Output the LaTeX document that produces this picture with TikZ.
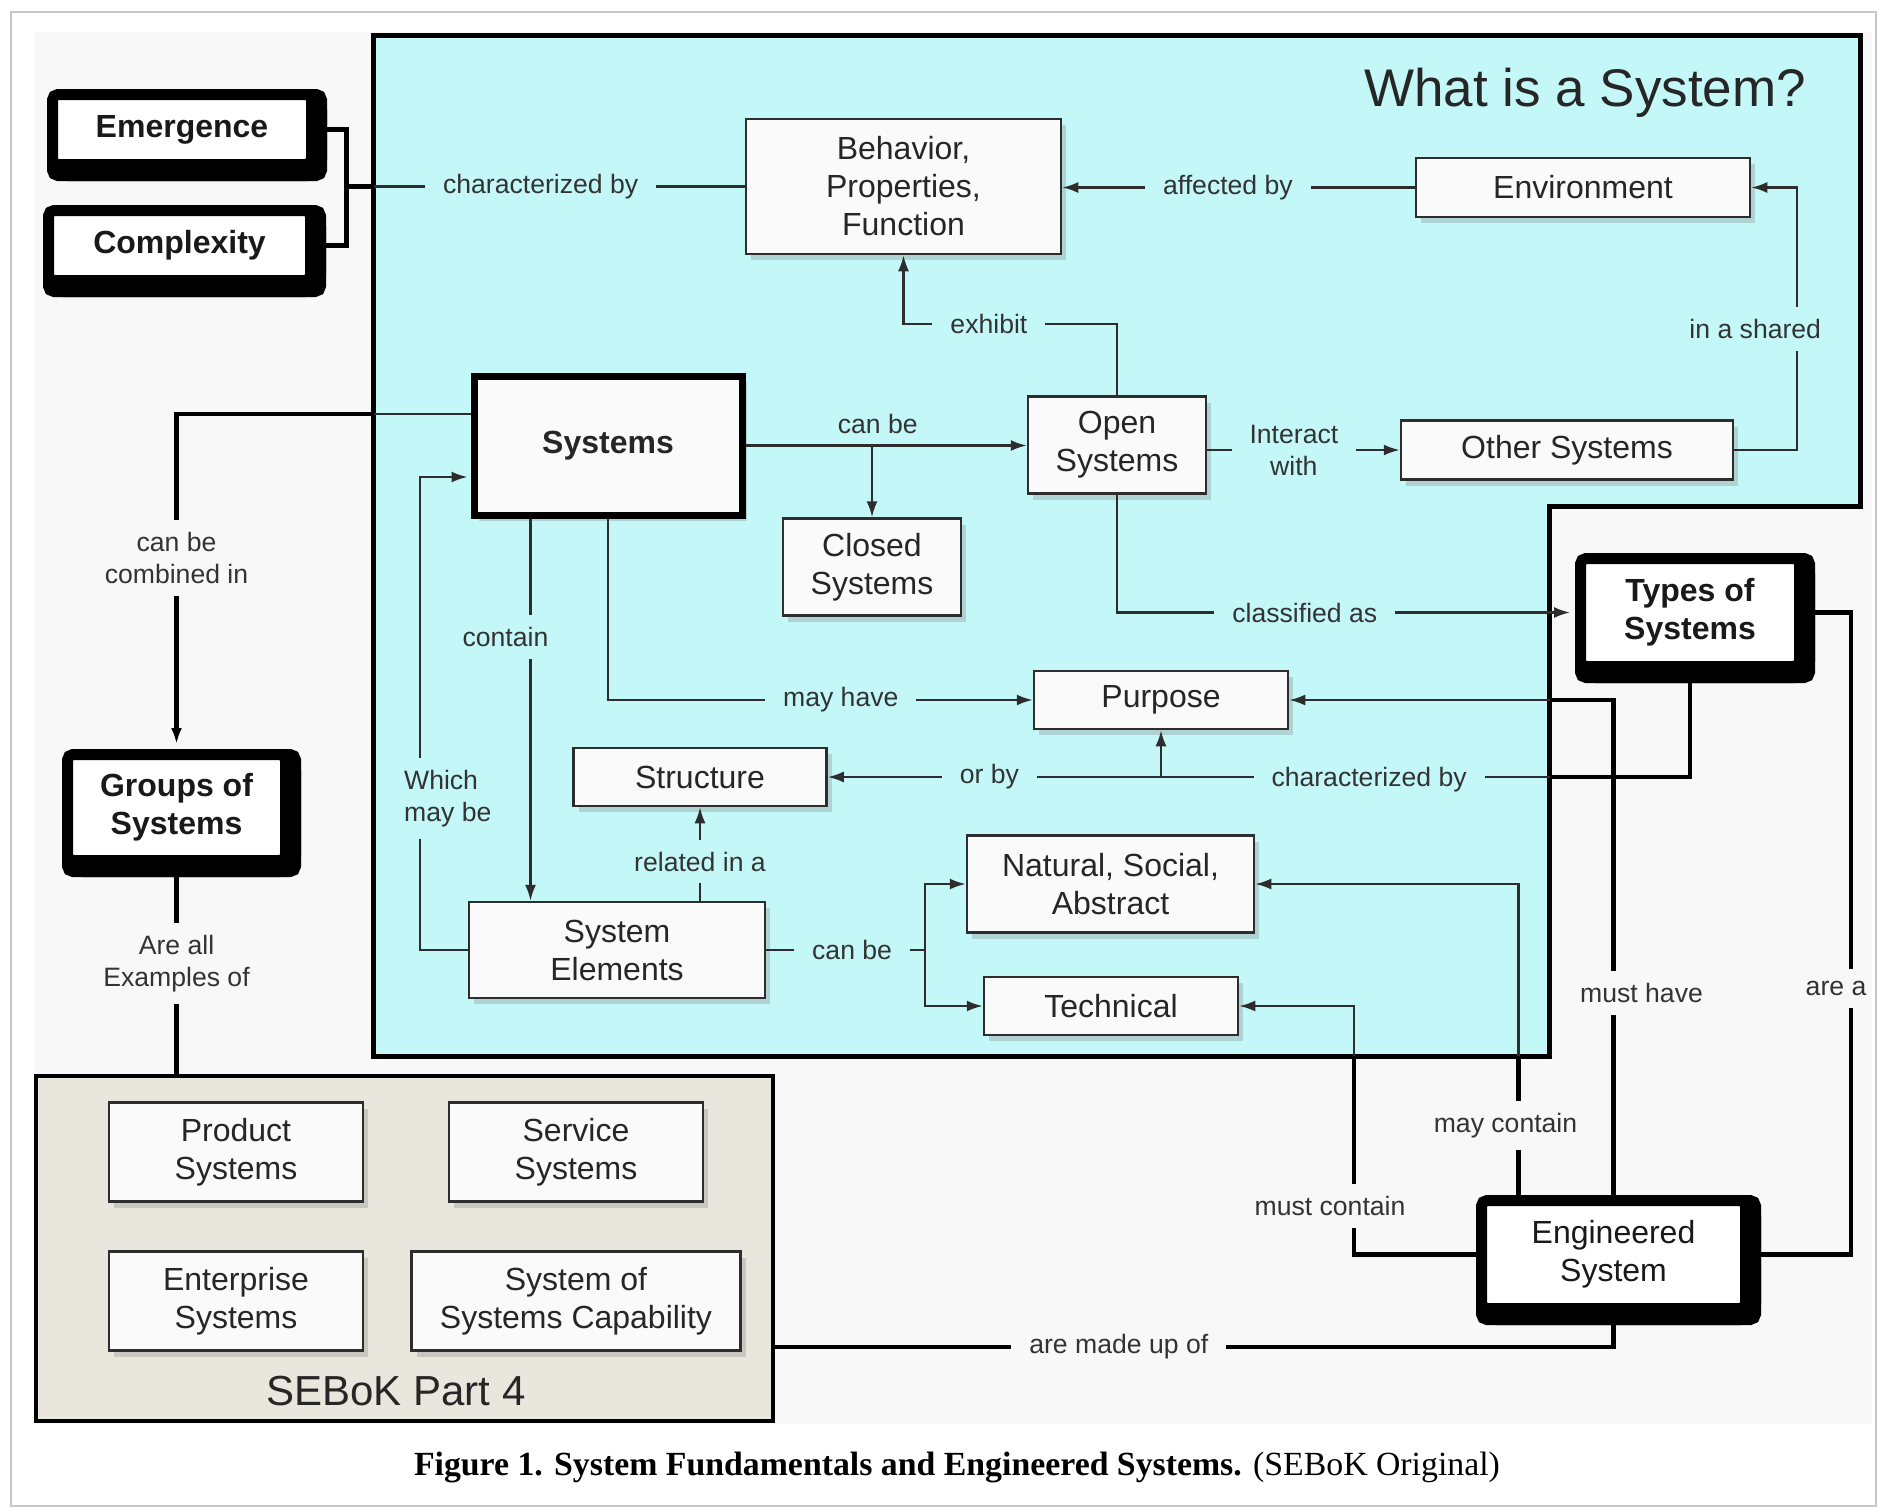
\documentclass[tikz,border=0pt]{standalone}
\usepackage{fontspec}
\setmainfont{Liberation Sans}
\newfontfamily\capfont{Liberation Serif}
\usetikzlibrary{arrows.meta}
\usetikzlibrary{calc,shadows}

\definecolor{cyanbg}{RGB}{196,248,248}
\definecolor{greybg}{RGB}{248,248,248}
\definecolor{partbg}{RGB}{232,230,221}
\definecolor{boxfill}{RGB}{250,250,250}
\definecolor{inkgrey}{RGB}{45,45,45}

\begin{document}
\begin{tikzpicture}[x=1pt, y=-1pt, >={Latex[length=16pt, width=11pt]}]
\tikzset{
box/.style = {draw=inkgrey, line width=2.5pt, fill=boxfill, text=black!85, align=center, inner sep=0pt, font=\fontsize{32}{38}\selectfont, drop shadow={opacity=0.3, shadow xshift=5pt, shadow yshift=-6pt}},
sysbox/.style = {box, draw=black, line width=7pt, font=\bfseries\fontsize{32}{38}\selectfont},
band/.style = {preaction={draw=black, fill=black, line width=11pt, transform canvas={#1}}},
boldbox/.style = {draw=black, line width=11pt, fill=white, rounded corners=5.5pt, align=center, inner sep=0pt, text=black!90, font=\bfseries\fontsize{32}{38}\selectfont, band={yshift=-11pt}, band={xshift=10pt}, band={xshift=10pt, yshift=-11pt}},
region/.style = {draw=black, line width=5pt, fill=cyanbg},
part4/.style = {draw=black, line width=4pt, fill=partbg, inner sep=0pt},
linklabel/.style = {fill=cyanbg, text=black!80, font=\fontsize{26.6}{32}\selectfont, inner xsep=18pt, inner ysep=12pt, align=center},
outlabel/.style = {linklabel, fill=greybg},
plainlabel/.style = {text=black!80, font=\fontsize{26.6}{32}\selectfont, inner sep=4pt},
conn/.style = {draw=inkgrey, line width=2.2pt},
thickconn/.style = {draw=black, line width=4.2pt}
}
\useasboundingbox (0,0) rectangle (1878,1510);

% page and background
\fill[greybg] (35,32) rectangle (1872,1424);
\draw[black!22, line width=2.5pt] (11,12) rectangle (1876,1506);

% the "What is a System?" region
\coordinate (c1) at (373.7,35.9);
\coordinate (c2) at (1860,35.9);
\coordinate (c3) at (1860,506.5);
\coordinate (c4) at (1549.5,506.5);
\coordinate (c5) at (1549.5,1056);
\coordinate (c6) at (373.7,1056);
\draw[region] (c1) -- (c2) -- (c3) -- (c4) -- (c5) -- (c6) -- cycle;
\node[font=\fontsize{53}{60}\selectfont, text=black!85, anchor=base] (title) at (1585,106) {What is a System?};

% SEBoK part 4
\node[part4, minimum width=737pt, minimum height=345pt] (sebok) at (404.5,1248.5) {};
\node[font=\fontsize{42}{48}\selectfont, text=black!85, anchor=base] (sebokname) at (396,1405) {SEBoK Part 4};

% bold boxes
\node[boldbox, minimum width=259pt, minimum height=70pt] (emg) at (182,129.5) {Emergence};
\node[boldbox, minimum width=262pt, minimum height=70pt] (cpx) at (179.5,245.5) {Complexity};
\node[boldbox, minimum width=218pt, minimum height=106pt] (grp) at (176.5,807.5) {Groups of\\Systems};
\node[boldbox, minimum width=219pt, minimum height=108pt] (types) at (1690,612.5) {Types of\\Systems};
\node[boldbox, minimum width=264pt, minimum height=108pt, font=\fontsize{32}{38}\selectfont] (eng) at (1613.5,1254.5) {Engineered\\System};

% boxes
\node[sysbox, minimum width=268pt, minimum height=139pt] (sys) at (608,445.5) {Systems};
\node[box, minimum width=315pt, minimum height=135pt] (beh) at (903.5,186.5) {Behavior,\\Properties,\\Function};
\node[box, minimum width=334pt, minimum height=59pt] (env) at (1583,187.5) {Environment};
\node[box, minimum width=178pt, minimum height=97pt] (open) at (1117,445) {Open\\Systems};
\node[box, minimum width=332pt, minimum height=59pt] (oth) at (1567,450) {Other Systems};
\node[box, minimum width=178pt, minimum height=97pt] (closed) at (872,567) {Closed\\Systems};
\node[box, minimum width=254pt, minimum height=58pt] (purpose) at (1161,700) {Purpose};
\node[box, minimum width=253pt, minimum height=58pt] (struct) at (700,777) {Structure};
\node[box, minimum width=296pt, minimum height=96pt] (elem) at (617,950) {System\\Elements};
\node[box, minimum width=287pt, minimum height=97pt] (nat) at (1110.5,884) {Natural, Social,\\Abstract};
\node[box, minimum width=254pt, minimum height=58pt] (tech) at (1111,1006) {Technical};
\node[box, minimum width=254pt, minimum height=99pt] (prod) at (236,1152) {Product\\Systems};
\node[box, minimum width=254pt, minimum height=99pt] (serv) at (576,1152) {Service\\Systems};
\node[box, minimum width=254pt, minimum height=99pt] (entr) at (236,1301) {Enterprise\\Systems};
\node[box, minimum width=329pt, minimum height=99pt] (sos) at (576,1301) {System of\\Systems Capability};

% emergence and complexity
\coordinate (brk) at (346.5,186.5);
\draw[thickconn] (emg.east) -| (brk) |- (cpx.east);
\draw[thickconn] (brk) -- (brk -| c1);
\draw[conn] (brk -| c1) -- node[linklabel, pos=0.45] (l1) {characterized by} (beh.west |- brk);

% groups of systems
\coordinate (sysg) at ([yshift=31.5pt]sys.west);
\draw[conn] (sysg) -- (sysg -| c1);
\draw[thickconn, ->, shorten >=5pt] (sysg -| c1) -| node[outlabel, pos=0.715, inner xsep=4pt] (l2) {can be\\combined in} (grp.north);
\draw[thickconn] (grp.south) -- node[outlabel, pos=0.47, inner xsep=4pt] (l3) {Are all\\Examples of} (grp.south |- sebok.north);

% behaviour and environment
\draw[conn, ->] (env.west) -- node[linklabel, pos=0.53] (l4) {affected by} (beh.east |- env.west);
\draw[conn, ->] (oth.east) -- ++(63,0) |- node[linklabel, pos=0.23, inner xsep=4pt, xshift=-42pt] (l5) {in a shared} (env.east);

% systems
\draw[conn, ->] (sys.east) -- node[plainlabel, above, pos=0.47, yshift=7pt] (l6) {can be} (open.west |- sys.east);
\draw[conn, ->] (sys.east -| closed.north) -- (closed.north);
\draw[conn, ->] (open.east |- oth.west) -- node[linklabel, pos=0.45] (l7) {Interact\\with} (oth.west);
\draw[conn, ->] (open.north) -- ++(0,-71) -| node[linklabel, pos=0.3] (l8) {exhibit} (beh.south);
\draw[conn, ->, shorten >=5pt] (open.south) |- node[linklabel, pos=0.705] (l9) {classified as} (types.west);
\draw[conn, ->] (sys.south) |- node[linklabel, pos=0.774] (l10) {may have} (purpose.west);
\coordinate (sysc) at ([xshift=-77.5pt]sys.south);
\draw[conn, ->] (sysc) -- node[linklabel, pos=0.31, inner xsep=4pt, xshift=-25pt] (l11) {contain} (sysc |- elem.north);
\coordinate (sysw) at ([yshift=-31.5pt]sys.west);
\draw[conn, ->, shorten >=3pt] (elem.west) -- ++(-48,0) |- node[linklabel, pos=0.16, inner xsep=4pt, xshift=28pt, align=left] (l12) {Which\\may be} (sysw);

% system elements
\draw[conn, ->] (elem.north -| struct.south) -- node[linklabel, pos=0.42] (l13) {related in a} (struct.south);
\draw[conn] (elem.east) -- node[linklabel, pos=0.54] (l14) {can be} ++(159,0) coordinate (cb);
\draw[conn, ->] (cb) |- (nat.west);
\draw[conn, ->] (cb) |- (tech.west);

% types of systems
\draw[thickconn] (types.south) |- (c4 |- struct.east);
\draw[conn, ->] (c4 |- struct.east) -- node[linklabel, pos=0.25, yshift=-3pt] (l15) {characterized by} node[linklabel, pos=0.776] (l16) {or by} (struct.east);
\draw[conn, ->] (purpose.south |- struct.east) -- (purpose.south);

% engineered system
\draw[thickconn] (eng.north) |- node[outlabel, pos=0.204, inner xsep=4pt, xshift=28pt] (l17) {must have} (c4 |- purpose.east);
\draw[conn, ->] (c4 |- purpose.east) -- (purpose.east);
\coordinate (engm) at ([xshift=-95pt]eng.north);
\draw[thickconn] (engm) -- node[outlabel, pos=0.5, inner xsep=4pt, xshift=-13pt] (l18) {may contain} (engm |- c5);
\draw[conn, ->] (engm |- c5) |- (nat.east);
\draw[thickconn] (eng.west) -- ++(-122,0) coordinate (mcb) -- node[outlabel, pos=0.245, inner xsep=4pt, xshift=-24pt] (l19) {must contain} (mcb |- c5);
\draw[conn, ->] (mcb |- c5) |- (tech.east);
\draw[thickconn] (eng.east) -- ++(100,0) |- node[outlabel, pos=0.207, inner xsep=4pt, xshift=-15pt] (l20) {are a} (types.east);
\draw[thickconn] (eng.south) -- ++(0,33) coordinate (emu) -- node[outlabel, pos=0.59] (l21) {are made up of} (emu -| sebok.east);

% caption
\node[font=\capfont\fontsize{33.8}{40}\selectfont, anchor=base] (cap) at (957,1475) {\textbf{Figure 1. System Fundamentals and Engineered Systems.} (SEBoK Original)};
\end{tikzpicture}
\end{document}
